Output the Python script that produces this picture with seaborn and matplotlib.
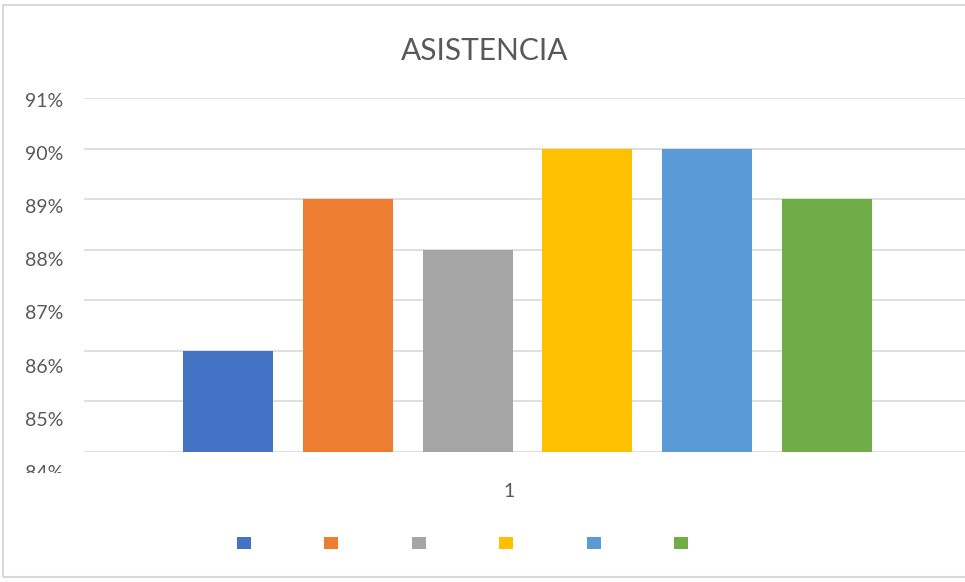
import numpy as np
import pandas as pd
import seaborn as sns
import matplotlib.pyplot as plt
import matplotlib.transforms as mtransforms
from matplotlib.patches import Patch, Rectangle

# datos del grafico
categorias = ['1']
series = ['Serie1', 'Serie2', 'Serie3', 'Serie4', 'Serie5', 'Serie6']
valores = [86, 89, 88, 90, 90, 89]
colores = ['#4472C4', '#ED7D31', '#A5A5A5', '#FFC000', '#5B9BD5', '#70AD47']
yticks = [84, 85, 86, 87, 88, 89, 90, 91]

df = pd.DataFrame({'cat': categorias * len(series), 'serie': series, 'valor': valores})

sns.set_theme(style='white')
plt.rcParams['font.family'] = ['Lato', 'DejaVu Sans']
gris_texto = '#595959'

fig = plt.figure(figsize=(9.65, 5.82), dpi=100)
ax = fig.add_axes([84 / 965, 130 / 582, 887 / 965, 354 / 582])

sns.barplot(data=df, x='cat', y='valor', hue='serie', palette=colores,
            width=0.81, gap=0.25, legend=False, ax=ax, saturation=1, linewidth=0)

ax.set_ylim(84, 91)
ax.set_xlim(-0.5, 0.5)
ax.set_yticks(yticks)
ax.set_yticklabels([f'{v}%' for v in yticks])
ax.yaxis.grid(True, color='#d9d9d9', linewidth=1.2)
ax.set_axisbelow(True)
for s in ax.spines.values():
    s.set_visible(False)
ax.tick_params(axis='y', length=0, pad=15, labelsize=14, labelcolor=gris_texto)
ax.tick_params(axis='x', length=0, pad=22, labelsize=14, labelcolor=gris_texto)
ax.set_xlabel('')
ax.set_ylabel('')

# en el original las etiquetas se van separando de la linea hacia abajo
for v, lab in zip(yticks, ax.get_yticklabels()):
    dy = (1.8 + (91 - v) * 2.6) / 100
    lab.set_transform(lab.get_transform() + mtransforms.ScaledTranslation(0, -dy, fig.dpi_scale_trans))
xoff = mtransforms.ScaledTranslation(-18 / 100, 0, fig.dpi_scale_trans)
for lab in ax.get_xticklabels():
    lab.set_transform(lab.get_transform() + xoff)

# la etiqueta de 84% sale cortada por abajo
fig.patches.append(Rectangle((10 / 965, 1 - 492 / 582), 70 / 965, 19 / 582,
                             transform=fig.transFigure, facecolor='white',
                             edgecolor='none', zorder=10))

fig.text(485 / 965, 1 - 51 / 582, 'ASISTENCIA', ha='center', va='center',
         fontsize=21.5, color=gris_texto)

handles = [Patch(facecolor=c, edgecolor='none') for c in colores]
fig.legend(handles, [''] * len(colores), ncol=6, loc='center',
           bbox_to_anchor=(462.5 / 965, 1 - 543 / 582), frameon=False,
           fontsize=10, handlelength=1.0, handleheight=1.0,
           handletextpad=0, columnspacing=5.3)

# borde del area del grafico
fig.patches.append(Rectangle((3 / 965, 5 / 582), 1.2, 572 / 582, transform=fig.transFigure,
                             fill=False, edgecolor='#d9d9d9', linewidth=1.5))

fig.savefig('out.png', dpi=100)
